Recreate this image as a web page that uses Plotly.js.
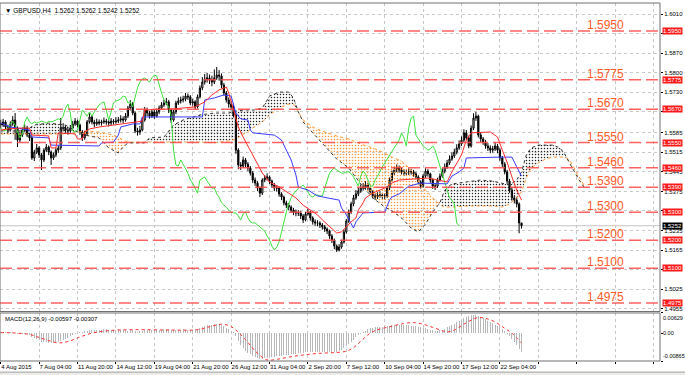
<!DOCTYPE html>
<html><head><meta charset="utf-8">
<script src="https://cdn.plot.ly/plotly-3.0.1.min.js"></script>
<style>html,body{margin:0;padding:0;background:#fff;}#chart{width:685px;height:375px;}</style>
</head><body><div id="chart"></div>
<script>
const symbolTitle = '\u25BC GBPUSD,H4  1.5262 1.5262 1.5242 1.5252';
const macdTitle = 'MACD(12,26,9) -0.00597 -0.00307';
const tickBars = [0,16,32,48,64,80,96,112,128,144,160,176,192,208,224,240,256,272];
const tickLabels = ['4 Aug 2015','7 Aug 04:00','11 Aug 20:00','14 Aug 12:00','19 Aug 04:00','21 Aug 20:00','26 Aug 12:00','31 Aug 04:00','2 Sep 20:00','7 Sep 12:00','10 Sep 04:00','14 Sep 20:00','17 Sep 12:00','22 Sep 04:00','','','',''];
const priceTicks = [1.6010,1.5940,1.5870,1.5800,1.5730,1.5660,1.5585,1.5515,1.5445,1.5375,1.5305,1.5235,1.5165,1.5095,1.5025,1.4955];
const priceTickText = ['1.6010','','1.5870','1.5800','1.5730','','1.5585','1.5515','1.5445','1.5375','','1.5235','1.5165','','1.5025','1.4955'];
const levels = [1.5950,1.5775,1.5670,1.5550,1.5460,1.5390,1.5300,1.5200,1.5100,1.4975];
const lastPrice = 1.5252;

const openP = [
1.5620,1.5613,1.5624,1.5606,1.5595,1.5617,1.5631,1.5602,1.5559,1.5577,
1.5595,1.5602,1.5577,1.5567,1.5495,1.5516,1.5531,1.5506,1.5488,1.5523,
1.5534,1.5516,1.5495,1.5506,1.5523,1.5531,1.5602,1.5602,1.5595,1.5592,
1.5602,1.5617,1.5627,1.5613,1.5588,1.5567,1.5581,1.5624,1.5642,1.5624,
1.5617,1.5624,1.5620,1.5624,1.5627,1.5624,1.5620,1.5627,1.5624,1.5627,
1.5631,1.5635,1.5631,1.5645,1.5674,1.5688,1.5656,1.5592,1.5588,1.5595,
1.5631,1.5667,1.5656,1.5645,1.5660,1.5645,1.5660,1.5674,1.5685,1.5692,
1.5696,1.5667,1.5631,1.5660,1.5692,1.5699,1.5703,1.5706,1.5717,1.5714,
1.5692,1.5696,1.5678,1.5714,1.5746,1.5767,1.5778,1.5782,1.5774,1.5767,
1.5782,1.5792,1.5789,1.5756,1.5728,1.5703,1.5688,1.5678,1.5649,1.5523,
1.5470,1.5466,1.5488,1.5473,1.5459,1.5441,1.5416,1.5405,1.5387,1.5369,
1.5416,1.5423,1.5427,1.5412,1.5398,1.5387,1.5387,1.5366,1.5355,1.5334,
1.5326,1.5319,1.5308,1.5301,1.5298,1.5298,1.5287,1.5273,1.5294,1.5301,
1.5280,1.5266,1.5262,1.5262,1.5255,1.5248,1.5240,1.5233,1.5215,1.5201,
1.5179,1.5165,1.5176,1.5194,1.5230,1.5269,1.5301,1.5330,1.5352,1.5366,
1.5377,1.5387,1.5391,1.5398,1.5387,1.5373,1.5359,1.5355,1.5362,1.5362,
1.5359,1.5359,1.5387,1.5416,1.5441,1.5452,1.5459,1.5452,1.5445,1.5441,
1.5441,1.5445,1.5445,1.5438,1.5427,1.5409,1.5394,1.5430,1.5448,1.5438,
1.5416,1.5394,1.5394,1.5416,1.5430,1.5448,1.5463,1.5477,1.5491,1.5502,
1.5516,1.5531,1.5545,1.5559,1.5585,1.5567,1.5538,1.5602,1.5638,1.5645,
1.5577,1.5563,1.5552,1.5538,1.5531,1.5523,1.5527,1.5538,1.5523,1.5495,
1.5473,1.5445,1.5412,1.5380,1.5352,1.5344,1.5330,1.5262];
const highP = [
1.5632,1.5635,1.5630,1.5614,1.5626,1.5645,1.5656,1.5608,1.5588,1.5604,
1.5615,1.5610,1.5585,1.5572,1.5524,1.5545,1.5538,1.5513,1.5530,1.5545,
1.5540,1.5522,1.5515,1.5531,1.5540,1.5638,1.5620,1.5612,1.5606,1.5613,
1.5628,1.5638,1.5632,1.5618,1.5595,1.5592,1.5631,1.5655,1.5648,1.5632,
1.5636,1.5633,1.5632,1.5640,1.5635,1.5630,1.5638,1.5634,1.5641,1.5642,
1.5648,1.5644,1.5656,1.5682,1.5702,1.5695,1.5662,1.5603,1.5610,1.5640,
1.5678,1.5675,1.5664,1.5670,1.5668,1.5672,1.5683,1.5695,1.5704,1.5710,
1.5703,1.5672,1.5668,1.5700,1.5712,1.5715,1.5718,1.5728,1.5726,1.5720,
1.5708,1.5702,1.5722,1.5755,1.5785,1.5796,1.5800,1.5794,1.5790,1.5812,
1.5821,1.5810,1.5798,1.5764,1.5735,1.5712,1.5698,1.5690,1.5655,1.5530,
1.5480,1.5500,1.5495,1.5480,1.5466,1.5448,1.5425,1.5412,1.5392,1.5422,
1.5434,1.5440,1.5432,1.5418,1.5405,1.5398,1.5393,1.5372,1.5360,1.5342,
1.5334,1.5325,1.5316,1.5310,1.5308,1.5305,1.5294,1.5302,1.5312,1.5306,
1.5286,1.5275,1.5272,1.5268,1.5262,1.5255,1.5246,1.5238,1.5222,1.5206,
1.5185,1.5186,1.5202,1.5238,1.5276,1.5310,1.5338,1.5362,1.5380,1.5390,
1.5400,1.5405,1.5412,1.5406,1.5393,1.5380,1.5368,1.5372,1.5375,1.5370,
1.5368,1.5395,1.5425,1.5450,1.5465,1.5472,1.5468,1.5460,1.5455,1.5452,
1.5458,1.5456,1.5452,1.5445,1.5433,1.5415,1.5438,1.5458,1.5455,1.5442,
1.5422,1.5404,1.5424,1.5440,1.5458,1.5475,1.5488,1.5504,1.5515,1.5528,
1.5544,1.5558,1.5572,1.5598,1.5595,1.5575,1.5612,1.5655,1.5660,1.5650,
1.5585,1.5570,1.5560,1.5548,1.5540,1.5538,1.5550,1.5545,1.5530,1.5502,
1.5480,1.5452,1.5420,1.5388,1.5362,1.5355,1.5336,1.5262];
const lowP = [
1.5601,1.5606,1.5598,1.5585,1.5590,1.5610,1.5560,1.5534,1.5550,1.5570,
1.5588,1.5570,1.5556,1.5488,1.5484,1.5509,1.5495,1.5452,1.5480,1.5516,
1.5505,1.5470,1.5488,1.5498,1.5513,1.5524,1.5590,1.5585,1.5578,1.5585,
1.5596,1.5610,1.5604,1.5578,1.5556,1.5560,1.5575,1.5618,1.5615,1.5605,
1.5610,1.5612,1.5611,1.5617,1.5614,1.5608,1.5613,1.5615,1.5618,1.5620,
1.5622,1.5620,1.5625,1.5638,1.5665,1.5648,1.5584,1.5575,1.5578,1.5590,
1.5625,1.5645,1.5636,1.5638,1.5635,1.5640,1.5652,1.5668,1.5678,1.5684,
1.5656,1.5620,1.5625,1.5652,1.5685,1.5690,1.5694,1.5698,1.5703,1.5684,
1.5682,1.5670,1.5672,1.5708,1.5738,1.5758,1.5765,1.5760,1.5752,1.5760,
1.5775,1.5772,1.5745,1.5718,1.5694,1.5675,1.5665,1.5640,1.5510,1.5455,
1.5452,1.5460,1.5462,1.5448,1.5432,1.5405,1.5395,1.5376,1.5355,1.5362,
1.5408,1.5414,1.5402,1.5388,1.5376,1.5375,1.5356,1.5344,1.5325,1.5315,
1.5308,1.5298,1.5290,1.5286,1.5287,1.5276,1.5262,1.5268,1.5288,1.5270,
1.5256,1.5252,1.5250,1.5244,1.5238,1.5230,1.5222,1.5205,1.5190,1.5168,
1.5158,1.5160,1.5170,1.5188,1.5224,1.5262,1.5294,1.5322,1.5345,1.5358,
1.5370,1.5378,1.5384,1.5378,1.5364,1.5350,1.5344,1.5348,1.5352,1.5348,
1.5346,1.5352,1.5380,1.5410,1.5434,1.5444,1.5442,1.5436,1.5430,1.5432,
1.5434,1.5435,1.5428,1.5418,1.5400,1.5385,1.5388,1.5424,1.5428,1.5406,
1.5384,1.5380,1.5388,1.5410,1.5424,1.5440,1.5456,1.5470,1.5485,1.5495,
1.5508,1.5524,1.5538,1.5552,1.5558,1.5530,1.5532,1.5595,1.5628,1.5568,
1.5552,1.5542,1.5528,1.5520,1.5512,1.5514,1.5520,1.5512,1.5485,1.5462,
1.5436,1.5402,1.5370,1.5342,1.5332,1.5318,1.5225,1.5242];
const closeP = [
1.5613,1.5624,1.5606,1.5595,1.5617,1.5631,1.5602,1.5559,1.5577,1.5595,
1.5602,1.5577,1.5567,1.5495,1.5516,1.5531,1.5506,1.5488,1.5523,1.5534,
1.5516,1.5495,1.5506,1.5523,1.5531,1.5602,1.5602,1.5595,1.5592,1.5602,
1.5617,1.5627,1.5613,1.5588,1.5567,1.5581,1.5624,1.5642,1.5624,1.5617,
1.5624,1.5620,1.5624,1.5627,1.5624,1.5620,1.5627,1.5624,1.5627,1.5631,
1.5635,1.5631,1.5645,1.5674,1.5688,1.5656,1.5592,1.5588,1.5595,1.5631,
1.5667,1.5656,1.5645,1.5660,1.5645,1.5660,1.5674,1.5685,1.5692,1.5696,
1.5667,1.5631,1.5660,1.5692,1.5699,1.5703,1.5706,1.5717,1.5714,1.5692,
1.5696,1.5678,1.5714,1.5746,1.5767,1.5778,1.5782,1.5774,1.5767,1.5782,
1.5792,1.5789,1.5756,1.5728,1.5703,1.5688,1.5678,1.5649,1.5523,1.5470,
1.5466,1.5488,1.5473,1.5459,1.5441,1.5416,1.5405,1.5387,1.5369,1.5416,
1.5423,1.5427,1.5412,1.5398,1.5387,1.5387,1.5366,1.5355,1.5334,1.5326,
1.5319,1.5308,1.5301,1.5298,1.5298,1.5287,1.5273,1.5294,1.5301,1.5280,
1.5266,1.5262,1.5262,1.5255,1.5248,1.5240,1.5233,1.5215,1.5201,1.5179,
1.5165,1.5176,1.5194,1.5230,1.5269,1.5301,1.5330,1.5352,1.5366,1.5377,
1.5387,1.5391,1.5398,1.5387,1.5373,1.5359,1.5355,1.5362,1.5362,1.5359,
1.5359,1.5387,1.5416,1.5441,1.5452,1.5459,1.5452,1.5445,1.5441,1.5441,
1.5445,1.5445,1.5438,1.5427,1.5409,1.5394,1.5430,1.5448,1.5438,1.5416,
1.5394,1.5394,1.5416,1.5430,1.5448,1.5463,1.5477,1.5491,1.5502,1.5516,
1.5531,1.5545,1.5559,1.5585,1.5567,1.5538,1.5602,1.5638,1.5645,1.5577,
1.5563,1.5552,1.5538,1.5531,1.5523,1.5527,1.5538,1.5523,1.5495,1.5473,
1.5445,1.5412,1.5380,1.5352,1.5344,1.5330,1.5262,1.5252];

const chikouShift = 26;

const tenkanBars = [0,3,8,12,13,20,21,23,24,31,32,34,35,37,41,47,56,59,60,72,81,85,88,91,94,95,97,99,101,104,107,109,112,116,120,123,126,129,132,134,137,140,142,144,146,148,149,151,152,155,158,161,163,166,178,186,188,190,192,194,196,204,207,209,211,213,215,217];
const tenkanVals = [1.5595,1.5599,1.5602,1.5602,1.5577,1.5574,1.5531,1.5531,1.5585,1.5581,1.5563,1.5563,1.5588,1.5599,1.5606,1.5613,1.5624,1.5627,1.5667,1.5671,1.5678,1.5696,1.5721,1.5739,1.5749,1.5728,1.5667,1.5606,1.5570,1.5523,1.5477,1.5441,1.5409,1.5391,1.5369,1.5352,1.5326,1.5308,1.5291,1.5273,1.5248,1.5226,1.5230,1.5248,1.5266,1.5280,1.5308,1.5334,1.5352,1.5369,1.5380,1.5391,1.5405,1.5416,1.5423,1.5409,1.5445,1.5477,1.5506,1.5559,1.5585,1.5588,1.5570,1.5523,1.5480,1.5427,1.5380,1.5344];

const kijunBars = [0,4,12,13,20,21,41,42,47,49,50,55,58,59,84,85,89,93,96,98,100,103,104,105,114,117,119,121,123,124,128,132,136,141,142,144,147,148,151,160,162,163,166,170,175,183,186,188,191,193,194,208,213,215,217];
const kijunVals = [1.5620,1.5606,1.5595,1.5570,1.5567,1.5541,1.5538,1.5549,1.5552,1.5577,1.5606,1.5617,1.5617,1.5642,1.5642,1.5703,1.5710,1.5721,1.5717,1.5656,1.5635,1.5631,1.5595,1.5585,1.5577,1.5559,1.5523,1.5488,1.5434,1.5391,1.5380,1.5359,1.5352,1.5344,1.5316,1.5291,1.5244,1.5266,1.5298,1.5301,1.5344,1.5355,1.5366,1.5394,1.5405,1.5402,1.5402,1.5430,1.5445,1.5459,1.5495,1.5498,1.5498,1.5463,1.5430];

const cloudBars = [0,10,14,20,27,31,35,41,45,49,51,53,60,62,68,72,76,83,89,95,98,102,106,109,112,116,120,122,124,126,130,135,140,145,150,155,160,163,167,171,174,177,180,183,185,188,195,200,205,209,212,215,217,219,221,224,227,230,233,235,237,239,241,243];
const spanA = [1.5581,1.5581,1.5581,1.5581,1.5581,1.5585,1.5592,1.5588,1.5581,1.5570,1.5559,1.5552,1.5552,1.5552,1.5552,1.5552,1.5552,1.5552,1.5549,1.5556,1.5563,1.5585,1.5610,1.5624,1.5649,1.5674,1.5688,1.5688,1.5660,1.5631,1.5606,1.5588,1.5574,1.5563,1.5545,1.5531,1.5513,1.5498,1.5484,1.5452,1.5416,1.5380,1.5352,1.5326,1.5319,1.5319,1.5323,1.5323,1.5323,1.5319,1.5330,1.5352,1.5373,1.5423,1.5459,1.5477,1.5491,1.5498,1.5498,1.5498,1.5488,1.5459,1.5427,1.5398];
const spanB = [1.5592,1.5592,1.5613,1.5620,1.5613,1.5592,1.5577,1.5567,1.5531,1.5513,1.5534,1.5549,1.5549,1.5567,1.5570,1.5613,1.5631,1.5649,1.5656,1.5656,1.5663,1.5667,1.5667,1.5674,1.5717,1.5731,1.5731,1.5710,1.5660,1.5624,1.5585,1.5538,1.5491,1.5459,1.5402,1.5352,1.5319,1.5305,1.5280,1.5244,1.5230,1.5258,1.5301,1.5334,1.5380,1.5402,1.5409,1.5416,1.5412,1.5405,1.5398,1.5416,1.5445,1.5506,1.5531,1.5541,1.5541,1.5541,1.5531,1.5509,1.5477,1.5445,1.5416,1.5391];

const macdHist = [
0.0003,0.0004,0.0003,0.0002,0.0003,0.0004,0.0002,-0.0002,-0.0003,-0.0002,-0.0001,-0.0004,-0.0006,-0.0012,
-0.0016,-0.0019,-0.0022,-0.0026,-0.0027,-0.0028,-0.0030,-0.0031,-0.0030,-0.0029,-0.0028,-0.0024,-0.0020,-0.0017,-0.0014,-0.0010,-0.0007,-0.0004,
0.0000,0.0003,0.0005,0.0007,0.0008,0.0009,0.0010,0.0011,0.0011,0.0010,
0.0011,0.0012,0.0012,0.0011,0.0010,0.0010,0.0011,0.0012,0.0011,0.0010,
0.0009,0.0008,0.0009,0.0010,0.0008,0.0005,0.0006,0.0008,0.0010,0.0011,
0.0012,0.0011,0.0010,0.0009,0.0010,0.0011,0.0012,0.0013,0.0012,0.0011,
0.0010,0.0009,0.0010,0.0011,0.0012,0.0011,0.0010,0.0009,0.0010,0.0012,0.0014,
0.0016,0.0019,0.0022,0.0024,0.0026,0.0027,0.0028,0.0029,0.0028,0.0026,0.0022,0.0017,0.0012,0.0008,0.0004,
-0.0010,-0.0025,-0.0037,-0.0046,-0.0054,-0.0061,-0.0066,-0.0071,-0.0075,-0.0078,-0.0080,-0.0079,-0.0077,-0.0076,-0.0075,
-0.0074,-0.0073,-0.0072,-0.0071,-0.0070,-0.0069,-0.0068,-0.0067,-0.0066,-0.0065,-0.0064,-0.0063,-0.0062,-0.0061,-0.0060,-0.0060,-0.0059,-0.0058,-0.0058,-0.0057,-0.0057,-0.0057,-0.0058,-0.0058,-0.0059,-0.0059,-0.0059,
-0.0058,-0.0056,-0.0052,-0.0047,-0.0041,-0.0034,-0.0027,-0.0020,-0.0013,-0.0007,-0.0002,
0.0003,0.0008,0.0012,0.0015,0.0017,0.0018,0.0019,0.0020,0.0020,0.0021,0.0022,0.0023,0.0024,0.0025,0.0025,0.0026,0.0026,0.0025,0.0025,0.0024,0.0023,0.0022,0.0021,0.0020,0.0019,0.0017,0.0015,0.0013,
0.0011,0.0009,0.0008,0.0008,0.0009,0.0011,0.0014,0.0018,0.0022,0.0026,
0.0030,0.0034,0.0038,0.0042,0.0046,0.0050,0.0053,0.0056,0.0058,0.0058,0.0055,
0.0051,0.0047,0.0043,0.0039,0.0035,0.0031,0.0027,0.0023,0.0018,0.0012,0.0006,-0.0001,-0.0009,-0.0018,-0.0028,-0.0038,-0.0049,-0.00597];
const signalBars = [0,5,12,18,24,28,33,38,45,55,70,82,88,92,95,98,102,106,110,112,116,122,128,134,140,144,147,150,153,156,162,168,172,176,180,184,186,189,193,197,199,202,206,210,213,217];
const signalVals = [0.0002,0.0001,-0.0004,-0.0018,-0.0030,-0.0026,-0.0012,0.0000,0.0008,0.0011,0.0010,0.0011,0.0022,0.0028,0.0024,0.0010,-0.0020,-0.0055,-0.0080,-0.0084,-0.0080,-0.0072,-0.0066,-0.0062,-0.0060,-0.0056,-0.0045,-0.0025,-0.0005,0.0008,0.0020,0.0030,0.0033,0.0028,0.0018,0.0008,0.0004,0.0010,0.0028,0.0044,0.0049,0.0046,0.0035,0.0015,0.0000,-0.00307];
const macdLabels = [0.00629, 0, -0.00865];
const macdLabelText = ['0.00629','0.00','-0.00865'];

// ---------- build ----------
const bars = closeP.map((_, i) => i);
const cloudTop = spanA.map((a, i) => Math.max(a, spanB[i]));
const chikouX = bars.slice(chikouShift).map(b => b - chikouShift);
const chikouY = closeP.slice(chikouShift);

const FONT = 'Liberation Sans, Arial, sans-serif';
const none = 'skip';

const traces = [
  {type:'scatter', x:cloudBars, y:spanB, mode:'lines', line:{width:0, color:'rgba(0,0,0,0)'}, hoverinfo:none},
  {type:'scatter', x:cloudBars, y:cloudTop, mode:'lines', line:{width:0, color:'rgba(0,0,0,0)'}, fill:'tonexty',
   fillcolor:'rgba(0,0,0,0)', fillpattern:{shape:'.', fgcolor:'#ff9a3c', bgcolor:'rgba(255,255,255,0)', size:3, solidity:0.22}, hoverinfo:none},
  {type:'scatter', x:cloudBars, y:spanA, mode:'lines', line:{width:0, color:'rgba(0,0,0,0)'}, hoverinfo:none},
  {type:'scatter', x:cloudBars, y:cloudTop, mode:'lines', line:{width:0, color:'rgba(0,0,0,0)'}, fill:'tonexty',
   fillcolor:'rgba(0,0,0,0)', fillpattern:{shape:'.', fgcolor:'#222222', bgcolor:'rgba(255,255,255,0)', size:3, solidity:0.2}, hoverinfo:none},
  {type:'scatter', x:cloudBars, y:spanA, mode:'lines', line:{width:1, color:'#ff9a3c', dash:'dot'}, hoverinfo:none},
  {type:'scatter', x:cloudBars, y:spanB, mode:'lines', line:{width:1, color:'#333333', dash:'dot'}, hoverinfo:none},
  {type:'candlestick', x:bars, open:openP, high:highP, low:lowP, close:closeP, whiskerwidth:0,
   increasing:{line:{color:'#000000', width:1}, fillcolor:'#ffffff'},
   decreasing:{line:{color:'#000000', width:1}, fillcolor:'#000000'}, hoverinfo:none},
  {type:'scatter', x:chikouX, y:chikouY, mode:'lines', line:{width:1, color:'#3ce03c'}, hoverinfo:none},
  {type:'scatter', x:kijunBars, y:kijunVals, mode:'lines', line:{width:1, color:'#3a3aff'}, hoverinfo:none},
  {type:'scatter', x:tenkanBars, y:tenkanVals, mode:'lines', line:{width:1, color:'#ff2a2a'}, hoverinfo:none},
  {type:'bar', x:bars, y:macdHist, xaxis:'x', yaxis:'y2', width:0.45, marker:{color:'#b8b8b8', line:{width:0}}, hoverinfo:none},
  {type:'scatter', x:signalBars, y:signalVals, xaxis:'x', yaxis:'y2', mode:'lines', line:{width:1, color:'#ff3030', dash:'dot', shape:'spline'}, hoverinfo:none}
];

const mainDomain = [0.1383, 1];
const macdDomain = [0, 0.1341];

const shapes = [];
shapes.push({type:'line', xref:'paper', x0:0, x1:1, yref:'y', y0:lastPrice, y1:lastPrice, line:{color:'#c4c4c4', width:1}, layer:'below'});
levels.forEach(l => shapes.push({type:'line', xref:'paper', x0:0, x1:1, yref:'y', y0:l, y1:l,
  line:{color:'rgba(255,70,70,0.85)', width:1.5, dash:'12px,5px'}}));
shapes.push({type:'rect', xref:'paper', yref:'paper', x0:0, x1:1, y0:mainDomain[0], y1:mainDomain[1], line:{color:'#707070', width:1}});
shapes.push({type:'rect', xref:'paper', yref:'paper', x0:0, x1:1, y0:macdDomain[0], y1:macdDomain[1], line:{color:'#707070', width:1}});
shapes.push({type:'rect', xref:'paper', yref:'paper', x0:-0.01, x1:1.05, y0:-0.045, y1:-0.031, line:{color:'#a0a0a0', width:1}, fillcolor:'#ecebe6'});

const annotations = [];
levels.forEach(l => {
  annotations.push({xref:'x', x:243.5, yref:'y', y:l, xanchor:'left', yanchor:'bottom', yshift:-3, text:l.toFixed(4),
    showarrow:false, font:{family:FONT, size:12, color:'#ff5a28'}});
  annotations.push({xref:'paper', x:1, xshift:2, yref:'y', y:l, xanchor:'left', yanchor:'middle', text:l.toFixed(4),
    showarrow:false, bgcolor:'#ff1a1a', borderpad:0, font:{family:FONT, size:6, color:'#ffffff'}});
});
annotations.push({xref:'paper', x:1, xshift:2, yref:'y', y:lastPrice, xanchor:'left', yanchor:'middle', text:lastPrice.toFixed(4),
  showarrow:false, bgcolor:'#000000', borderpad:0, font:{family:FONT, size:6, color:'#ffffff'}});
annotations.push({xref:'paper', x:0, xshift:3, yref:'paper', y:1, yshift:-2, xanchor:'left', yanchor:'top', text:symbolTitle,
  showarrow:false, font:{family:FONT, size:6.5, color:'#000000'}});
annotations.push({xref:'paper', x:0, xshift:3, yref:'paper', y:macdDomain[1], yshift:-1, xanchor:'left', yanchor:'top', text:macdTitle,
  showarrow:false, font:{family:FONT, size:6, color:'#000000'}});
macdLabels.forEach((v, i) => annotations.push({xref:'paper', x:1, xshift:1, yref:'y2', y:v, xanchor:'left',
  yanchor: i === 0 ? 'top' : (i === 2 ? 'bottom' : 'middle'), text:macdLabelText[i], showarrow:false,
  font:{family:FONT, size:5.5, color:'#000000'}}));

const layout = {
  width:685, height:375, margin:{l:0, r:25, t:3, b:14},
  paper_bgcolor:'#ffffff', plot_bgcolor:'#ffffff', showlegend:false, bargap:0,
  xaxis:{range:[-0.3, 274.7], anchor:'y2', tickvals:tickBars, ticktext:tickLabels, ticklabelposition:'outside right',
    tickangle:0, ticks:'outside', ticklen:2, tickcolor:'#000', showgrid:true, gridcolor:'#c8c8c8', griddash:'dot', gridwidth:1,
    zeroline:false, showline:false, rangeslider:{visible:false}, tickfont:{family:FONT, size:6, color:'#000'}, fixedrange:true},
  yaxis:{domain:mainDomain, range:[1.49447, 1.60504], side:'right', anchor:'x', tickvals:priceTicks,
    ticktext:priceTickText, ticks:'outside', ticklen:2, tickcolor:'#000', showgrid:true,
    gridcolor:'#c8c8c8', griddash:'dot', zeroline:false, showline:false, tickfont:{family:FONT, size:6, color:'#000'}},
  yaxis2:{domain:macdDomain, range:[-0.00865, 0.00629], side:'right', anchor:'x', tickvals:[0.00629, 0, -0.00865],
    showticklabels:false, ticks:'outside', ticklen:2, tickcolor:'#000', showgrid:false, zeroline:false, showline:false},
  shapes:shapes, annotations:annotations
};

Plotly.newPlot('chart', traces, layout, {staticPlot:true, displayModeBar:false});
</script>
</body></html>
